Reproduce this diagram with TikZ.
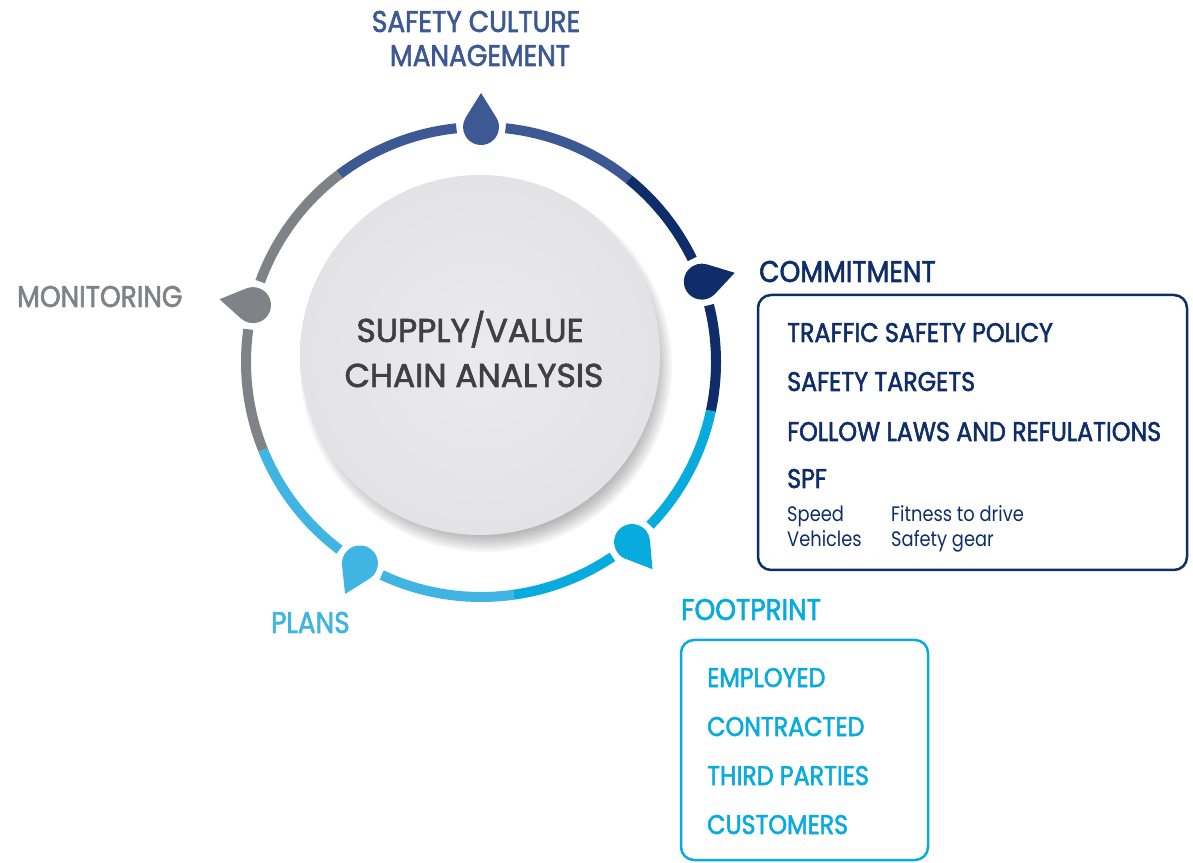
\documentclass[tikz,border=0pt]{standalone}
\usepackage{fontspec}
\setmainfont{Poppins}[FakeStretch=0.88,FakeBold=2]
\newfontfamily\discfont{Poppins}[FakeBold=2]
\newfontfamily\lightfont{Poppins}[FakeStretch=0.85]
\definecolor{medblue}{rgb}{0.24,0.35,0.58}
\definecolor{navy}{rgb}{0.06,0.18,0.41}
\definecolor{cyanb}{rgb}{0.03,0.67,0.87}
\definecolor{skyb}{rgb}{0.25,0.71,0.89}
\definecolor{greyb}{rgb}{0.5,0.51,0.53}
\definecolor{discin}{rgb}{0.92,0.92,0.93}
\definecolor{discout}{rgb}{0.89,0.89,0.9}
\definecolor{discink}{rgb}{0.25,0.25,0.26}
\tikzset{drop/.pic={\fill (0,34) -- (32:18) arc[start angle=32,end angle=-212,radius=18pt] -- cycle;}}

\begin{document}
\begin{tikzpicture}[line cap=round,line join=round,x=1pt,y=1pt,
		ring/.style={line width=10pt,line cap=butt},
		title/.style={font=\fontsize{30}{30}\selectfont,inner sep=0pt},
		item/.style={font=\fontsize{27}{27}\selectfont,inner sep=0pt,anchor=base west},
		small/.style={font=\lightfont\fontsize{21}{21}\selectfont,inner sep=0pt,anchor=base west},
		listbox/.style={draw,line width=2.5pt,rounded corners=13pt,inner sep=0pt}]
		\clip(0,0) rectangle (1193,862);
		\coordinate (ctr) at (481,500);
		% soft shadow, then the disc
		\foreach \k in {166,168,...,186}
			\fill[black,opacity=0.035] (486,496) circle (\k pt);
		\node[circle,minimum size=360pt,inner sep=0pt,shade,inner color=discin,outer color=discout] (disc) at (480,507) {};
		\node[font=\discfont\fontsize{33}{33}\selectfont,text=discink,inner sep=0pt,anchor=base] (supply) at (470,520) {SUPPLY/VALUE};
		\node[font=\discfont\fontsize{33}{33}\selectfont,text=discink,inner sep=0pt,anchor=base] (chain) at (474,475) {CHAIN ANALYSIS};
		% ring, cut open at each drop
		\foreach \s/\e/\c in {-12/14/navy,26/51/navy,51/84/medblue,96/127/medblue,127/160/greyb,172/202/greyb,202/233/skyb,245/278/skyb,278/304/cyanb,316/348/cyanb}
			\draw[ring,\c] (ctr) ++(\s:235) arc[start angle=\s,end angle=\e,radius=235pt];
		\foreach \a/\t/\c in {90/90/medblue,20/15/navy,-50/-53/cyanb,-121/-116/skyb,166/170/greyb}
			\path (ctr) ++(\a:235) pic[rotate=\t-90,color=\c] {drop};
		% titles
		\node[title,text=medblue,anchor=base] (scm1) at (476,830) {SAFETY CULTURE};
		\node[title,text=medblue,anchor=base] (scm2) at (480,796) {MANAGEMENT};
		\node[title,text=navy,anchor=base west] (commit) at (759,580) {COMMITMENT};
		\node[title,text=greyb,anchor=base west] (monitor) at (17,555) {MONITORING};
		\node[title,text=skyb,anchor=base west] (plans) at (271,229) {PLANS};
		\node[title,text=cyanb,anchor=base west] (foot) at (681,242) {FOOTPRINT};
		% commitment list
		\node[listbox,navy,minimum width=429pt,minimum height=275pt] (commitbox) at (972.5,429.5) {};
		\node[item,text=navy] (policy) at (787,520) {TRAFFIC SAFETY POLICY};
		\node[item,text=navy] (targets) at (787,471) {SAFETY TARGETS};
		\node[item,text=navy] (laws) at (787,421) {FOLLOW LAWS AND REFULATIONS};
		\node[item,text=navy] (spf) at (787,374) {SPF};
		\node[small,text=navy] (speed) at (787,340) {Speed};
		\node[small,text=navy] (vehicles) at (787,315) {Vehicles};
		\node[small,text=navy] (fitness) at (891,340) {Fitness to drive};
		\node[small,text=navy] (gear) at (891,315) {Safety gear};
		% footprint list
		\node[listbox,cyanb,minimum width=247pt,minimum height=220pt] (footbox) at (804.5,112) {};
		\node[item,text=cyanb] (employed) at (707,175) {EMPLOYED};
		\node[item,text=cyanb] (contracted) at (707,126) {CONTRACTED};
		\node[item,text=cyanb] (third) at (707,77) {THIRD PARTIES};
		\node[item,text=cyanb] (customers) at (707,28) {CUSTOMERS};
	\end{tikzpicture}
\end{document}
